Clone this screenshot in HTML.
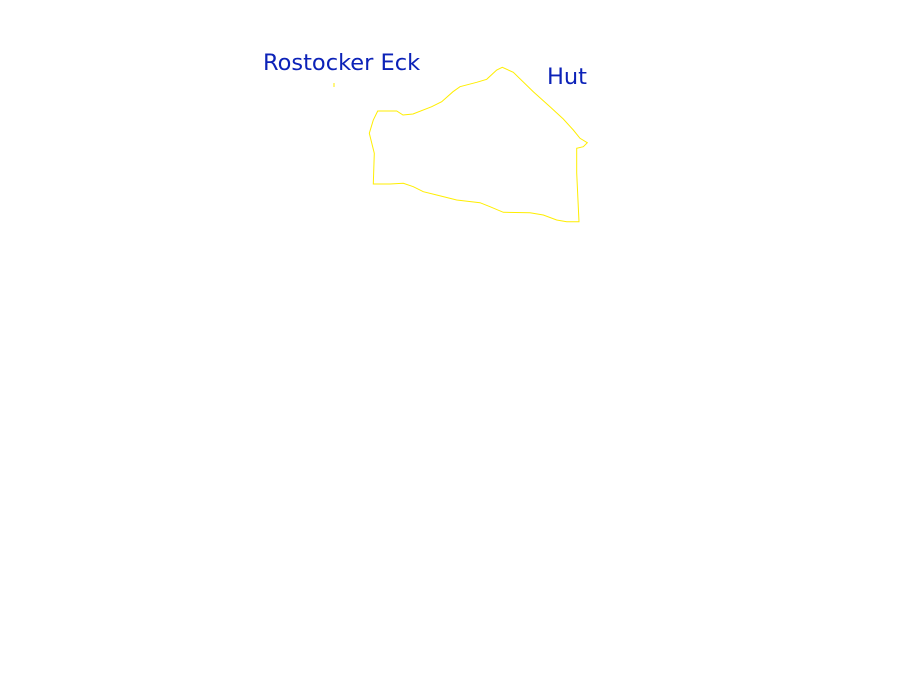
<!DOCTYPE html>
<html><head><meta charset="utf-8"><style>
html,body{margin:0;padding:0;background:#fff;width:900px;height:675px;overflow:hidden}
svg{display:block}
text{font-family:"DejaVu Sans","Liberation Sans",sans-serif;font-size:22.5px;fill:#0c22b8}
</style></head><body>
<svg width="900" height="675" viewBox="0 0 900 675" xmlns="http://www.w3.org/2000/svg">
<polygon fill="none" stroke="#ffee00" stroke-width="1" points="377.7,111 396.7,111 403,115 413,114 431.7,106.7 441.7,101.7 453,91.7 460,86.7 476.7,82.3 486.7,79.3 496.7,70 502.3,67.3 513.3,72.3 533.3,91.7 550,106.7 563.3,119 573.3,130 580,138.3 587.3,142.7 583.3,146.7 576.7,148.3 576.7,173 579,221.7 566.7,221.7 556.7,220 543.3,215 530,212.7 503.3,212.3 490,206.7 480,202.7 456.7,200 436.7,195 423.3,191.7 413.3,186.7 403.3,183.3 390,184 373.3,184 374.3,153.3 369.3,133.3 373.3,120"/>
<line x1="334" y1="83" x2="334" y2="87" stroke="#ffee00" stroke-width="1"/>
<text x="263" y="70">Rostocker Eck</text>
<text x="547" y="84">Hut</text>
</svg>
</body></html>
